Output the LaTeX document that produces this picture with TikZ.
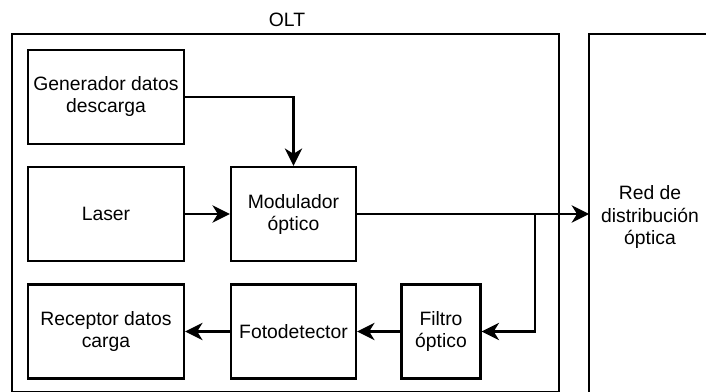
\documentclass[tikz,border=0pt]{standalone}
\usepackage{fontspec}
\setmainfont{Liberation Sans}
\usepackage{tikz}
\usetikzlibrary{positioning,arrows.meta,calc}

\begin{document}
\begin{tikzpicture}[
    x=0.75pt, y=-0.75pt,
    block/.style={rectangle, draw=black, line width=1.8pt, minimum width=117pt, minimum height=70.5pt, inner sep=2pt, align=center, font=\fontsize{14.5}{16.5}\selectfont},
    narrow/.style={block, minimum width=93.75pt},
    frame/.style={rectangle, draw=black, line width=1.8pt, inner sep=0pt, outer sep=0pt, align=center, font=\fontsize{14.5}{16.5}\selectfont},
    arrow/.style={-{Stealth[length=13pt,width=13pt,inset=4pt]}, line width=1.8pt}
]

\useasboundingbox (0,0) rectangle (706,392);
\fill[white] (0,0) rectangle (706,392);
\clip (0,0) rectangle (706,392);

% ============== FRAMES: OLT, RED ==============
\node[frame, minimum width=410.25pt, minimum height=268.5pt] (olt) at (285.5,213) {};
\node[font=\fontsize{14.5}{16.5}\selectfont] (oltLabel) at (287,20) {OLT};

\node[frame, minimum width=91.5pt, minimum height=274.5pt] (red) at (650,217) {Red de\\distribución\\óptica};

% ============== ROW 1: GENERADOR ==============
\node[block] (gen) at (106,97) {Generador datos\\descarga};

% ============== ROW 2: LASER, MODULADOR ==============
\node[block] (laser) at (106,214) {Laser};
\node[narrow] (mod) at (293.5,214) {Modulador\\óptico};

% ============== ROW 3: RECEPTOR, FOTODETECTOR, FILTRO ==============
\node[block] (rec) at (106,331.5) {Receptor datos\\carga};
\node[narrow] (foto) at (293.5,331.5) {Fotodetector};
\node[block, minimum width=59.25pt] (filtro) at (441,331.5) {Filtro\\óptico};

% ============== CONNECTIONS ==============
\coordinate (branch) at (535,214);

% Generador -> Modulador
\draw[arrow] (gen.east) -| (mod.north);

% Laser -> Modulador
\draw[arrow] (laser) -- (mod);

% Modulador -> Red
\draw[arrow] (mod.east) -- (mod.east -| red.west);

% Red -> Filtro (derivacion)
\draw[arrow] (branch) |- (filtro.east);

% Filtro -> Fotodetector -> Receptor
\draw[arrow] (filtro) -- (foto);
\draw[arrow] (foto) -- (rec);

\end{tikzpicture}
\end{document}
